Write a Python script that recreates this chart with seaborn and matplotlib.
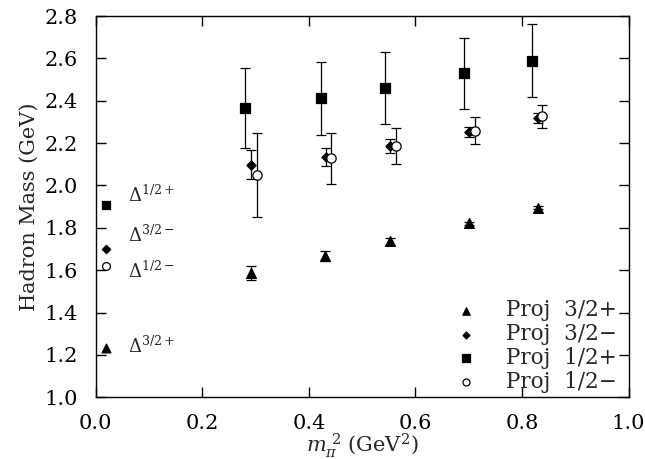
import matplotlib
matplotlib.use('Agg')
import matplotlib.pyplot as plt
import numpy as np
import pandas as pd
import seaborn as sns
from matplotlib.ticker import MultipleLocator, FormatStrFormatter

# Data
mpi2_tri = [0.291, 0.430, 0.553, 0.701, 0.829]
mass_tri = [1.585, 1.667, 1.736, 1.821, 1.895]
err_tri = [0.033, 0.024, 0.015, 0.006, 0.006]

mpi2_dia = [0.291, 0.432, 0.553, 0.701, 0.829]
mass_dia = [2.098, 2.133, 2.186, 2.253, 2.318]
err_dia = [0.068, 0.043, 0.034, 0.024, 0.022]

mpi2_sq = [0.281, 0.422, 0.543, 0.691, 0.818]
mass_sq = [2.367, 2.411, 2.460, 2.529, 2.589]
err_sq = [0.188, 0.171, 0.169, 0.169, 0.172]

mpi2_circ = [0.302, 0.442, 0.563, 0.711, 0.838]
mass_circ = [2.050, 2.129, 2.186, 2.258, 2.326]
err_circ = [0.199, 0.120, 0.085, 0.064, 0.053]

# Experimental Delta states shown at the left edge
exp_x = 0.019
exp_mass = [1.907, 1.698, 1.620, 1.234]
exp_markers = ['s', 'D', 'o', '^']
exp_labels = [r'$\Delta^{1/2+}$', r'$\Delta^{3/2-}$', r'$\Delta^{1/2-}$', r'$\Delta^{3/2+}$']
exp_label_y = [1.955, 1.766, 1.597, 1.239]

series_names = ['Proj  3/2+', 'Proj  3/2\u2212', 'Proj  1/2+', 'Proj  1/2\u2212']

sns.set_theme(style='ticks')
plt.rcParams.update({
    'font.family': ['DejaVu Serif'],
    'mathtext.fontset': 'dejavuserif',
    'axes.linewidth': 1.0,
    'xtick.direction': 'in',
    'ytick.direction': 'in',
    'xtick.top': True,
    'ytick.right': True,
    'xtick.major.size': 7,
    'ytick.major.size': 7,
    'xtick.major.width': 1.0,
    'ytick.major.width': 1.0,
    'xtick.major.pad': 12,
    'ytick.major.pad': 13,
    'xtick.color': 'black',
    'ytick.color': 'black',
    'axes.edgecolor': 'black',
})

fig = plt.figure(figsize=(6.45, 4.59), dpi=100)
ax = fig.add_axes([0.1484, 0.1344, 0.8263, 0.8307])

df = pd.concat([
    pd.DataFrame({'x': mpi2_tri, 'y': mass_tri, 'e': err_tri, 'series': series_names[0]}),
    pd.DataFrame({'x': mpi2_dia, 'y': mass_dia, 'e': err_dia, 'series': series_names[1]}),
    pd.DataFrame({'x': mpi2_sq, 'y': mass_sq, 'e': err_sq, 'series': series_names[2]}),
    pd.DataFrame({'x': mpi2_circ, 'y': mass_circ, 'e': err_circ, 'series': series_names[3]}),
])

styles = {
    series_names[0]: dict(marker='^', s=50, fc='black'),
    series_names[1]: dict(marker='D', s=22, fc='black'),
    series_names[2]: dict(marker='s', s=50, fc='black'),
    series_names[3]: dict(marker='o', s=45, fc='white'),
}

for name in series_names:
    sub = df[df['series'] == name]
    ax.errorbar(sub['x'], sub['y'], yerr=sub['e'], fmt='none', ecolor='black',
                elinewidth=0.9, capsize=3.5, capthick=0.9, zorder=2)
    st = styles[name]
    sns.scatterplot(x=sub['x'], y=sub['y'], ax=ax, marker=st['marker'], s=st['s'],
                    color=st['fc'], edgecolor='black', linewidth=0.9, zorder=3,
                    label=name)

# experimental points and labels
exp_fc = ['black', 'black', 'white', 'black']
exp_s = [40, 18, 32, 40]
for yv, mk, fc, s in zip(exp_mass, exp_markers, exp_fc, exp_s):
    ax.scatter([exp_x], [yv], marker=mk, s=s, facecolor=fc, edgecolor='black',
               linewidth=0.9, zorder=3)
for lab, yv in zip(exp_labels, exp_label_y):
    ax.text(0.06, yv, lab, fontsize=13, ha='left', va='center')

ax.set_xlim(0.0, 1.0)
ax.set_ylim(1.0, 2.8)
ax.xaxis.set_major_locator(MultipleLocator(0.2))
ax.yaxis.set_major_locator(MultipleLocator(0.2))
ax.xaxis.set_major_formatter(FormatStrFormatter('%.1f'))
ax.yaxis.set_major_formatter(FormatStrFormatter('%.1f'))
ax.tick_params(labelsize=15)

ax.set_xlabel(r'$m_{\pi}^{\ 2}$ (GeV$^2$)', fontsize=15, labelpad=-1)
ax.set_ylabel('Hadron Mass (GeV)', fontsize=15, labelpad=4)

leg = ax.legend(loc='lower right', bbox_to_anchor=(0.998, -0.016), frameon=False,
                fontsize=15.5, labelspacing=0.08, handletextpad=1.35,
                borderpad=0.0, handlelength=1.0, markerscale=0.75)

for sp in ax.spines.values():
    sp.set_color('black')

fig.savefig('out.png', dpi=100, facecolor='white')
